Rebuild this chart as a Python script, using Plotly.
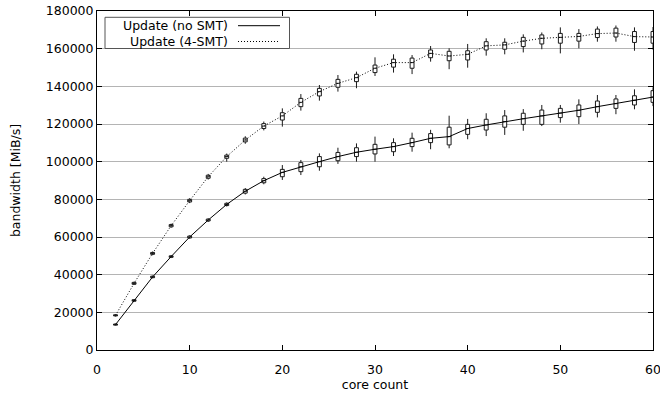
import plotly.graph_objects as go

# core counts
cores = [2, 4, 6, 8, 10, 12, 14, 16, 18, 20, 22, 24, 26, 28, 30,
         32, 34, 36, 38, 40, 42, 44, 46, 48, 50, 52, 54, 56, 58, 60]

# Update (no SMT)
nosmt_med = [13500, 26300, 38800, 49600, 60000, 69000, 77300, 84300, 89900, 94300,
             97300, 100000, 102700, 105000, 106600, 108000, 110100, 112400, 113300, 117600,
             119500, 121300, 122800, 124300, 125800, 127300, 129200, 130800, 132600, 134300]
nosmt_q1 = [13200, 25900, 38400, 49200, 59500, 68500, 76700, 83300, 88800, 92000,
            94700, 97300, 100500, 102700, 104100, 105300, 108000, 110100, 108900, 114500,
            116800, 118300, 119800, 119800, 123400, 123900, 126200, 128300, 130100, 131500]
nosmt_q3 = [13800, 26700, 39200, 50000, 60500, 69500, 77900, 85300, 91000, 95900,
            99500, 102700, 104900, 107400, 109200, 110100, 112400, 114900, 118300, 119800,
            122500, 124300, 125700, 127400, 128300, 130100, 132200, 133300, 135000, 137700]
nosmt_lo = [13000, 25600, 38100, 48800, 59100, 68000, 76200, 82600, 88000, 90300,
            92900, 95200, 98800, 100000, 100000, 103000, 105300, 106600, 107100, 111900,
            113600, 114200, 116400, 118900, 120700, 120000, 123500, 125200, 127800, 129500]
nosmt_hi = [14000, 27000, 39500, 50400, 60900, 70000, 78400, 86000, 92000, 98200,
            100900, 104400, 107400, 109700, 113300, 112400, 115400, 116900, 124400, 122700,
            125700, 127400, 127900, 130100, 130100, 133100, 135400, 135400, 138400, 139500]

# Update (4-SMT)
smt_med = [18400, 35400, 51300, 66000, 79300, 92000, 102700, 111500, 118900, 124300,
           131500, 137200, 141600, 144600, 149600, 152600, 152600, 157500, 156100, 157000,
           161500, 162000, 164000, 165500, 166000, 166500, 168000, 168300, 166400, 166200]
smt_q1 = [18100, 34900, 50800, 65400, 78600, 91200, 101800, 110500, 117600, 122100,
          129200, 134900, 139500, 142500, 147300, 150200, 149600, 155200, 153600, 154000,
          159300, 159700, 161100, 162500, 162900, 164000, 165900, 166200, 163300, 162900]
smt_q3 = [18700, 35900, 51800, 66600, 80000, 92800, 103500, 112500, 120200, 126000,
          133600, 138900, 143700, 146400, 151300, 154400, 155000, 159300, 158600, 158900,
          163700, 163400, 166000, 167300, 168100, 168100, 170400, 170900, 169100, 169100]
smt_lo = [17800, 34500, 50300, 64900, 78000, 90500, 100000, 109500, 116600, 118600,
          127100, 132400, 137200, 139000, 145500, 147300, 146500, 153100, 149100, 149900,
          156300, 157000, 158000, 159700, 157500, 160200, 163700, 163700, 158900, 159500]
smt_hi = [19000, 36300, 52300, 67100, 80600, 93500, 104300, 113500, 121300, 128300,
          135900, 140700, 146000, 147800, 155400, 157000, 156600, 161400, 160200, 162500,
          165500, 165500, 167600, 168600, 171300, 170400, 171800, 172300, 171300, 171500]

series_names = ["Update (no SMT)", "Update (4-SMT)"]
y_ticks = [0, 20000, 40000, 60000, 80000, 100000, 120000, 140000, 160000, 180000]
x_ticks = [0, 10, 20, 30, 40, 50, 60]

FONT = "DejaVu Sans"
FS = 12.5
DOT = "1px,2px"

fig = go.Figure()

for med, q1, q3, lo, hi, dash, name in [
    (nosmt_med, nosmt_q1, nosmt_q3, nosmt_lo, nosmt_hi, "solid", series_names[0]),
    (smt_med, smt_q1, smt_q3, smt_lo, smt_hi, DOT, series_names[1]),
]:
    fig.add_trace(go.Scatter(
        x=cores, y=med, mode="lines", name=name, showlegend=False,
        line=dict(color="black", width=1, dash=dash), hoverinfo="skip"))
    fig.add_trace(go.Box(
        x=cores, q1=q1, median=med, q3=q3, lowerfence=lo, upperfence=hi,
        width=0.42, whiskerwidth=0, boxpoints=False, showlegend=False,
        fillcolor="white", line=dict(color="#1a1a1a", width=1), name=name))

px0, px1, py0, py1 = 97, 653, 350, 11
def px(v):
    return (v - px0) / (px1 - px0)
def py(v):
    return (py0 - v) / (py0 - py1)

shapes = [
    dict(type="rect", xref="paper", yref="paper", x0=px(105), x1=px(289.5),
         y0=py(48.5), y1=py(17.3), line=dict(color="#555555", width=1),
         fillcolor="white", layer="above"),
    dict(type="line", xref="paper", yref="paper", x0=px(238), x1=px(280),
         y0=py(25.7), y1=py(25.7), line=dict(color="black", width=1)),
    dict(type="line", xref="paper", yref="paper", x0=px(238), x1=px(280),
         y0=py(41.5), y1=py(41.5), line=dict(color="black", width=1, dash=DOT)),
]
annotations = [
    dict(xref="paper", yref="paper", x=px(229.5), y=py(25.7), xanchor="right",
         yanchor="middle", text=series_names[0], showarrow=False,
         font=dict(family=FONT, size=FS, color="black")),
    dict(xref="paper", yref="paper", x=px(229.5), y=py(41.5), xanchor="right",
         yanchor="middle", text=series_names[1], showarrow=False,
         font=dict(family=FONT, size=FS, color="black")),
]

fig.update_layout(
    width=660, height=396,
    margin=dict(l=px0, r=660 - px1, t=py1, b=396 - py0),
    paper_bgcolor="white", plot_bgcolor="white",
    boxmode="overlay",
    showlegend=False,
    font=dict(family=FONT, size=12, color="black"),
    shapes=shapes, annotations=annotations,
    xaxis=dict(range=[0, 60], tickvals=x_ticks, ticks="inside", ticklen=5,
               tickcolor="black", showline=True, linecolor="black", linewidth=1,
               mirror="ticks", showgrid=False, zeroline=False, automargin=False,
               ticklabeloverflow="allow", ticklabelstandoff=8,
               title=dict(text="core count", standoff=4, font=dict(size=FS)),
               tickfont=dict(size=FS)),
    yaxis=dict(range=[0, 180000], tickvals=y_ticks, ticks="inside", ticklen=5,
               tickcolor="black", showline=True, linecolor="black", linewidth=1,
               mirror="ticks", showgrid=True, gridcolor="#b4b4b4", gridwidth=1,
               zeroline=False, tickformat="d", ticklabeloverflow="allow",
               automargin=False,
               title=dict(text="bandwidth [MiB/s]", standoff=22, font=dict(size=FS)),
               tickfont=dict(size=FS)),
)

fig.write_html("out.html", config={"displayModeBar": False},
               post_script="document.body.style.margin='0';document.body.style.overflow='hidden';")
